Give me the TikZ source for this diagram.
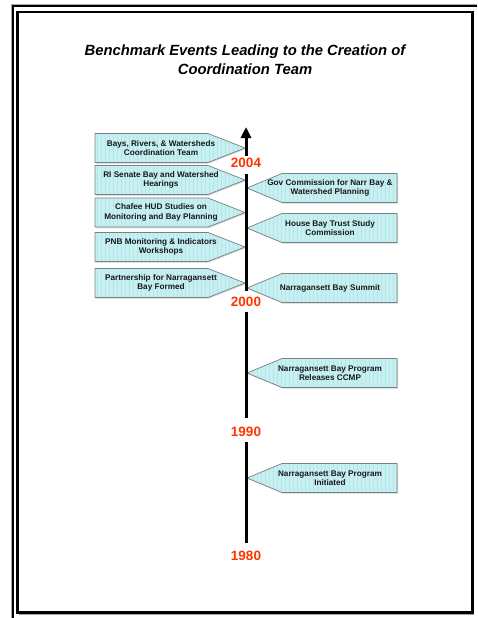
\documentclass[tikz,border=0pt]{standalone}
\usepackage{fontspec}
\setmainfont{Liberation Sans}
\usetikzlibrary{arrows.meta,shadows}
\definecolor{boxfill}{RGB}{198,240,242}
\definecolor{stripecol}{RGB}{182,228,232}
\definecolor{yearred}{RGB}{255,51,0}
\definecolor{boxline}{RGB}{120,130,130}
\newcommand\leftevent[3]{%
  \draw[evbox] (95,#2-14.5) -- (208,#2-14.5) -- (245,#2) -- (208,#2+14.5) -- (95,#2+14.5) -- cycle;
  \node[evt] (#1) at (161,#2) {#3};}
\newcommand\rightevent[3]{%
  \draw[evbox] (247,#2) -- (282,#2-14.5) -- (397,#2-14.5) -- (397,#2+14.5) -- (282,#2+14.5) -- cycle;
  \node[evt] (#1) at (330,#2) {#3};}
\begin{document}
\begin{tikzpicture}[x=1pt,y=-1pt,
  evt/.style={font=\bfseries\fontsize{8.2}{9.4}\selectfont, align=center, text=black!90, inner sep=0pt},
  yearlab/.style={font=\bfseries\fontsize{13.5}{14}\selectfont, text=yearred, inner sep=0pt},
  titlestyle/.style={font=\bfseries\itshape\fontsize{14.8}{19.5}\selectfont, align=center, inner sep=0pt},
  evbox/.style={draw=boxline, line width=0.7pt, fill=boxfill,
    drop shadow={opacity=0.35, shadow xshift=1pt, shadow yshift=-1pt},
    path picture={\foreach \i in {2,6,...,160}
      \draw[stripecol, line width=0.5pt] ([xshift=\i pt]path picture bounding box.south west) -- ([xshift=\i pt]path picture bounding box.north west);}},
  axis/.style={line width=3pt, black},
  frameline/.style={line width=2pt, black}]
\useasboundingbox (0,0) rectangle (477,618);
% frame
\draw[frameline, gray!70, line width=1pt] (11.5,618) -- (11.5,4.5) -- (477,4.5);
\draw[frameline] (13,618) -- (13,6) -- (477,6);
\draw[gray!70, line width=1pt] (19,614.5) -- (473.5,614.5) -- (473.5,13);
\draw[line width=2.5pt] (17.5,12) rectangle (472.5,612.5);
% title
\node[titlestyle] (title) at (245,59.5) {Benchmark Events Leading to the Creation of\\Coordination Team};
% events
\leftevent{e1}{148}{Bays, Rivers, \& Watersheds\\Coordination Team}
\leftevent{e2}{180}{RI Senate Bay and Watershed\\Hearings}
\leftevent{e3}{212.5}{Chafee HUD Studies on\\Monitoring and Bay Planning}
\leftevent{e4}{247}{PNB Monitoring \& Indicators\\Workshops}
\leftevent{e5}{283}{Partnership for Narragansett\\Bay Formed}
\rightevent{r1}{188}{Gov Commission for Narr Bay \&\\Watershed Planning}
\rightevent{r2}{228}{House Bay Trust Study\\Commission}
\rightevent{r3}{288}{Narragansett Bay Summit}
\rightevent{r4}{373}{Narragansett Bay Program\\Releases CCMP}
\rightevent{r5}{478}{Narragansett Bay Program\\Initiated}
% years
\node[yearlab] (y2004) at (246,163) {2004};
\node[yearlab] (y2000) at (246,302) {2000};
\node[yearlab] (y1990) at (246,432) {1990};
\node[yearlab] (y1980) at (246,556) {1980};
% axis
\coordinate (a0) at (246,156);
\coordinate (a1) at (246,127);
\coordinate (b0) at (246,174);
\coordinate (b1) at (246,291);
\coordinate (c0) at (246,312);
\coordinate (c1) at (246,418);
\coordinate (d0) at (246,442);
\coordinate (d1) at (246,543);
\draw[axis, -{Triangle[length=11pt,width=10pt]}] (a0) -- (a1);
\draw[axis] (b0) -- (b1);
\draw[axis] (c0) -- (c1);
\draw[axis] (d0) -- (d1);
\end{tikzpicture}
\end{document}
